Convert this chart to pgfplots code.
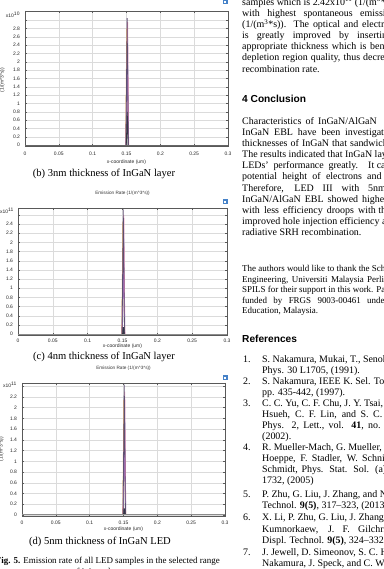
\documentclass[border=0pt]{standalone}
\usepackage{pgfplots}
\pgfplotsset{compat=1.18}
\usepackage{fontspec}
\setmainfont{Liberation Serif}
\newfontfamily\arial{Liberation Sans}
\newcommand\tk{\arial\fontsize{5}{6}\selectfont}
\newcommand\ttl{\arial\fontsize{4.7}{6}\selectfont}
\newcommand\bt{\fontsize{10}{11}\selectfont}
\newcommand\ak{\fontsize{9}{10}\selectfont}
\newcommand\hd{\arial\bfseries\fontsize{10.2}{12}\selectfont}
\newcommand\cp{\fontsize{10.6}{12}\selectfont}
\newcommand\fc{\fontsize{9}{10}\selectfont}
\definecolor{s1}{RGB}{95,80,115}
\definecolor{s2}{RGB}{235,140,175}
\definecolor{s3}{RGB}{240,170,90}
\definecolor{s4}{RGB}{120,180,230}
\definecolor{s5}{RGB}{150,200,120}
\definecolor{s6}{RGB}{185,125,205}
\definecolor{s7}{RGB}{55,55,70}
\definecolor{icon}{RGB}{70,130,200}
\pgfplotsset{comsol/.style={
  scale only axis, clip=false, xmin=0, xmax=0.3,
  xtick={0,0.05,0.1,0.15,0.2,0.25,0.3},
  xticklabels={0,0.05,0.1,0.15,0.2,0.25,0.3},
  grid=major, major grid style={black!14, line width=0.35pt},
  axis line style={black!65, line width=0.45pt},
  tick style={black!65, line width=0.35pt}, major tick length=1.8bp, tick align=inside,
  ticklabel style={font=\tk, text=black!85},
  xticklabel style={anchor=center},
  yticklabel style={xshift=-1.5bp},
  /pgf/number format/assume math mode=true,
  title={Emission Rate (1/(m\textasciicircum 3*s))},
  title style={font=\ttl, text=black!80, at={(axis description cs:0.5,1)}, anchor=center},
  xlabel={x-coordinate (um)},
  xlabel style={font=\tk, text=black!85, at={(axis description cs:0.5,0)}, anchor=center},
  every axis plot/.append style={line width=0.8pt},
}}
\newcommand\bl[2]{\node[anchor=base west, inner sep=0pt] at (242bp,#1bp) {\bt #2};}
\newcommand\al[2]{\node[anchor=base west, inner sep=0pt] at (242bp,#1bp) {\ak #2};}
\newcommand\rn[3]{\node[anchor=base west, inner sep=0pt] at (243bp,#1bp) {\bt #2};
  \node[anchor=base west, inner sep=0pt] at (262bp,#1bp) {\bt #3};}
\newcommand\rc[2]{\node[anchor=base west, inner sep=0pt] at (262bp,#1bp) {\bt #2};}
\begin{document}
\begin{tikzpicture}
\useasboundingbox (0bp,0bp) rectangle (384bp,569bp);
\clip (0bp,0bp) rectangle (384bp,569bp);

% ---------- (b) ----------
\begin{axis}[comsol, at={(25bp,423bp)}, anchor=south west, width=203bp, height=135bp,
  ymin=-0.02, ymax=3.22,
  ytick={0,0.2,0.4,0.6,0.8,1,1.2,1.4,1.6,1.8,2,2.2,2.4,2.6,2.8,3},
  yticklabels={0,0.2,0.4,0.6,0.8,1,1.2,1.4,1.6,1.8,2,2.2,2.4,2.6,2.8,{}},
  xticklabel style={yshift=-8bp}, xlabel style={yshift=-16bp}, title style={yshift=10bp}]
\addplot[s5] coordinates {(0.1490,0)(0.1506,2.3)(0.1528,0)};
\addplot[s4] coordinates {(0.1489,0)(0.1516,2.6)(0.1531,0)};
\addplot[s3] coordinates {(0.1488,0)(0.1504,2.8)(0.1530,0)};
\addplot[s2] coordinates {(0.1491,0)(0.1517,2.95)(0.1532,0)};
\addplot[s6] coordinates {(0.1493,0)(0.1514,1.9)(0.1529,0)};
\addplot[s1] coordinates {(0.1492,0)(0.1509,3.05)(0.1527,0)};
\addplot[s7] coordinates {(0.1497,0)(0.1511,0.8)(0.1523,0)};
\addplot[black!60, line width=1.3pt] coordinates {(0,0)(0.3,0)};
\node[font=\tk, text=black!85] at (axis description cs:0,1) [xshift=-12bp, yshift=-4bp] {x10\textsuperscript{10}};
\end{axis}

% ---------- (c) ----------
\begin{axis}[comsol, at={(18bp,234bp)}, anchor=south west, width=209bp, height=127bp,
  ymin=-0.02, ymax=2.75,
  ytick={0,0.2,0.4,0.6,0.8,1,1.2,1.4,1.6,1.8,2,2.2,2.4,2.6},
  yticklabels={0,0.2,0.4,0.6,0.8,1,1.2,1.4,1.6,1.8,2,2.2,2.4,{}},
  xticklabel style={yshift=-6bp}, xlabel style={yshift=-11bp}, title style={yshift=9bp}]
\addplot[s5] coordinates {(0.1492,0)(0.1508,2.0)(0.1530,0)};
\addplot[s4] coordinates {(0.1491,0)(0.1518,2.3)(0.1533,0)};
\addplot[s3] coordinates {(0.1490,0)(0.1506,2.45)(0.1532,0)};
\addplot[s2] coordinates {(0.1493,0)(0.1519,2.6)(0.1534,0)};
\addplot[s6] coordinates {(0.1495,0)(0.1516,1.6)(0.1531,0)};
\addplot[s1] coordinates {(0.1494,0)(0.1511,2.72)(0.1529,0)};
\addplot[s7, line width=1.4pt] coordinates {(0.1505,0)(0.1513,0.15)(0.1521,0)};
\addplot[black!45, line width=1.1pt] coordinates {(0,0)(0.3,0)};
\node[font=\tk, text=black!85] at (axis description cs:0,1) [xshift=-11bp, yshift=-3bp] {x10\textsuperscript{11}};
\end{axis}

% ---------- (d) ----------
\begin{axis}[comsol, at={(22bp,53bp)}, anchor=south west, width=203bp, height=133bp,
  ymin=-0.02, ymax=2.46,
  ytick={0,0.2,0.4,0.6,0.8,1,1.2,1.4,1.6,1.8,2,2.2,2.4},
  yticklabels={0,0.2,0.4,0.6,0.8,1,1.2,1.4,1.6,1.8,2,2.2,{}},
  xticklabel style={yshift=-7bp}, xlabel style={yshift=-13bp}, title style={yshift=9bp}]
\addplot[s5] coordinates {(0.1492,0)(0.1508,1.8)(0.1530,0)};
\addplot[s4] coordinates {(0.1491,0)(0.1518,2.0)(0.1533,0)};
\addplot[s3] coordinates {(0.1490,0)(0.1506,2.15)(0.1532,0)};
\addplot[s2] coordinates {(0.1493,0)(0.1519,2.3)(0.1534,0)};
\addplot[s6] coordinates {(0.1495,0)(0.1516,1.4)(0.1531,0)};
\addplot[s1] coordinates {(0.1494,0)(0.1511,2.43)(0.1529,0)};
\addplot[s7, line width=1.5pt] coordinates {(0.1505,0)(0.1513,0.12)(0.1521,0)};
\addplot[black!45, line width=1.1pt] coordinates {(0,0)(0.3,0)};
\node[font=\tk, text=black!85] at (axis description cs:0,1) [xshift=-12bp, yshift=-2bp] {x10\textsuperscript{11}};
\end{axis}

% rotated y labels (mostly outside the page)
\node[rotate=90, anchor=base, font=\tk, text=black!85] at (3.5bp,489bp) {(1/(m\textasciicircum 3*s))};
\node[rotate=90, anchor=base, font=\tk, text=black!85] at (2.5bp,120bp) {(1/(m\textasciicircum 3*s))};

% icons
\foreach \yy in {564.5,365,189} {
  \fill[icon] (223bp,\yy bp) rectangle (227.5bp,\yy bp+4.5bp);
  \fill[white] (224.2bp,\yy bp+1.2bp) rectangle (226.3bp,\yy bp+3.3bp);
}

% sub-captions
\node[anchor=base, inner sep=0pt] at (104bp,392.5bp) {\cp (b) 3nm thickness of InGaN layer};
\node[anchor=base, inner sep=0pt] at (104bp,209.5bp) {\cp (c) 4nm thickness of InGaN layer};
\node[anchor=base, inner sep=0pt] at (100bp,24.5bp) {\cp (d) 5nm thickness of InGaN LED};
\node[anchor=base east, inner sep=0pt] at (220bp,6bp) {\fc \textbf{Fig. 5.} Emission rate of all LED samples in the selected range};
\node[anchor=base, inner sep=0pt] at (105bp,-5bp) {\fc of injected current};

% ---------- right column ----------
\bl{563.5}{samples which is 2.42x10\textsuperscript{11} (1/(m\textsuperscript{3}*s)), the lowest}
\bl{552.4}{\makebox[118bp][s]{with highest spontaneous \rlap{emission}}}
\bl{541.3}{\makebox[120bp][s]{(1/(m\textsuperscript{3}*s)). The optical and \rlap{electrical}}}
\bl{530.2}{\makebox[115bp][s]{is greatly improved by \rlap{inserting}}}
\bl{519.1}{\makebox[128bp][s]{appropriate thickness which is \rlap{beneficial}}}
\bl{508}{\makebox[121bp][s]{depletion region quality, thus \rlap{decreasing}}}
\bl{496.9}{recombination rate.}

\node[anchor=base west, inner sep=0pt] at (242bp,466.3bp) {\hd 4 Conclusion};

\bl{444.5}{\makebox[76bp][s]{Characteristics of \rlap{InGaN/AlGaN}}}
\bl{433.4}{\makebox[103bp][s]{InGaN EBL have been \rlap{investigated}}}
\bl{422.3}{\makebox[108bp][s]{thicknesses of InGaN that \rlap{sandwiched}}}
\bl{411.2}{The results indicated that InGaN layer}
\bl{400.1}{\makebox[126bp][s]{LEDs' performance greatly. \rlap{It can}}}
\bl{389}{\makebox[125bp][s]{potential height of electrons \rlap{and}}}
\bl{377.9}{\makebox[126bp][s]{Therefore, LED III with \rlap{5nm}}}
\bl{366.8}{\makebox[120bp][s]{InGaN/AlGaN EBL showed \rlap{higher}}}
\bl{355.7}{\makebox[116bp][s]{with less efficiency droops \rlap{with the}}}
\bl{344.6}{improved hole injection efficiency and}
\bl{333.5}{radiative SRH recombination.}

\al{297.2}{The authors would like to thank the School of}
\al{286.7}{\makebox[125bp][s]{Engineering, Universiti Malaysia \rlap{Perlis}}}
\al{276.2}{SPILS for their support in this work. Part}
\al{265.7}{\makebox[125bp][s]{funded by FRGS 9003-00461 \rlap{under}}}
\al{255.2}{Education, Malaysia.}

\node[anchor=base west, inner sep=0pt] at (242bp,226.3bp) {\hd References};

\rn{206}{1.}{S. Nakamura, Mukai, T., Senoh, M., Jpn. J. Appl.}
\rc{195.5}{Phys. 30 L1705, (1991).}
\rn{184.5}{2.}{S. Nakamura, IEEE K. Sel. Top. Quantum}
\rc{173}{pp. 435-442, (1997).}
\rn{162}{3.}{C. C. Yu, C. F. Chu, J. Y. Tsai, H. W. Huang}
\rc{151}{\makebox[111bp][s]{Hsueh, C. F. Lin, and S. \rlap{C. Wang}}}
\rc{140}{\makebox[106bp][s]{Phys. 2, Lett., vol. \textbf{41}, \rlap{no.}}}
\rc{129}{(2002).}
\rn{118}{4.}{R. Mueller-Mach, G. Mueller, M. R. Krames}
\rc{107}{\makebox[100bp][s]{Hoeppe, F. Stadler, W. \rlap{Schnick}}}
\rc{96}{\makebox[113bp][s]{Schmidt, Phys. Stat. Sol. \rlap{(a)}}}
\rc{85}{1732, (2005)}
\rn{71}{5.}{P. Zhu, G. Liu, J. Zhang, and N. Tansu, J. Displ.}
\rc{60}{Technol. \textbf{9(5)}, 317--323, (2013).}
\rn{48}{6.}{X. Li, P. Zhu, G. Liu, J. Zhang, R. Song}
\rc{37}{\makebox[96bp][s]{Kumnorkaew, J. F. \rlap{Gilchrist}}}
\rc{26}{Displ. Technol. \textbf{9(5)}, 324--332, (2013).}
\rn{14}{7.}{J. Jewell, D. Simeonov, S. C. Huang, Y. L. Hu}
\rc{3}{Nakamura, J. Speck, and C. Weisbuch}
\end{tikzpicture}
\end{document}
